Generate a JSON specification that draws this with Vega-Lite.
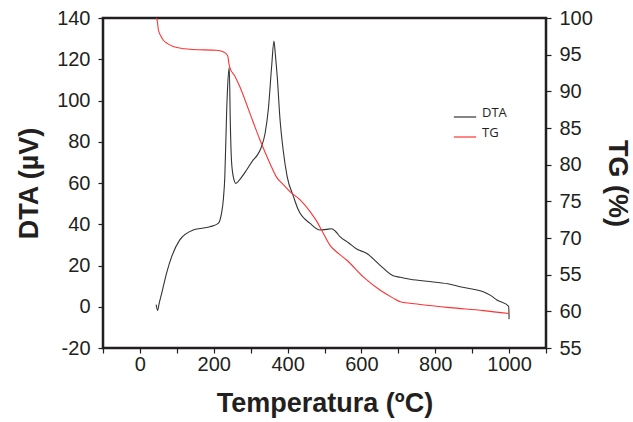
{
  "$schema": "https://vega.github.io/schema/vega-lite/v6.json",
  "width": 443,
  "height": 330,
  "autosize": {"type": "none"},
  "padding": {"left": 103, "top": 18, "right": 87, "bottom": 74},
  "background": "white",
  "config": {
    "view": {"stroke": "#231f20", "strokeWidth": 2.5},
    "axis": {
      "grid": false,
      "domain": false,
      "tickColor": "#231f20",
      "tickSize": 5,
      "tickWidth": 1.2,
      "labelOverlap": false,
      "labelFont": "Liberation Sans",
      "labelFontSize": 20,
      "labelColor": "#231f20",
      "titleFont": "Liberation Sans",
      "titleFontSize": 27,
      "titleFontWeight": "bold",
      "titleColor": "#231f20"
    }
  },
  "datasets": {
    "dta": [
      {"T": 44, "DTA": 1.0, "series": "DTA"},
      {"T": 48, "DTA": -1.8, "series": "DTA"},
      {"T": 52, "DTA": 1.5, "series": "DTA"},
      {"T": 59, "DTA": 6.5, "series": "DTA"},
      {"T": 72, "DTA": 16.2, "series": "DTA"},
      {"T": 86, "DTA": 24.3, "series": "DTA"},
      {"T": 108, "DTA": 32.4, "series": "DTA"},
      {"T": 144, "DTA": 37.2, "series": "DTA"},
      {"T": 190, "DTA": 38.8, "series": "DTA"},
      {"T": 212, "DTA": 40.4, "series": "DTA"},
      {"T": 221, "DTA": 45.3, "series": "DTA"},
      {"T": 226, "DTA": 52, "series": "DTA"},
      {"T": 230, "DTA": 63, "series": "DTA"},
      {"T": 235, "DTA": 95, "series": "DTA"},
      {"T": 238, "DTA": 108, "series": "DTA"},
      {"T": 242, "DTA": 116, "series": "DTA"},
      {"T": 245, "DTA": 88, "series": "DTA"},
      {"T": 248, "DTA": 71, "series": "DTA"},
      {"T": 253, "DTA": 63, "series": "DTA"},
      {"T": 260, "DTA": 59.8, "series": "DTA"},
      {"T": 271, "DTA": 61.8, "series": "DTA"},
      {"T": 289, "DTA": 66.3, "series": "DTA"},
      {"T": 307, "DTA": 71.2, "series": "DTA"},
      {"T": 318, "DTA": 73.5, "series": "DTA"},
      {"T": 328, "DTA": 77.0, "series": "DTA"},
      {"T": 339, "DTA": 84, "series": "DTA"},
      {"T": 348, "DTA": 96, "series": "DTA"},
      {"T": 357, "DTA": 117, "series": "DTA"},
      {"T": 363, "DTA": 128.8, "series": "DTA"},
      {"T": 367, "DTA": 122, "series": "DTA"},
      {"T": 372, "DTA": 111.5, "series": "DTA"},
      {"T": 379, "DTA": 92, "series": "DTA"},
      {"T": 388, "DTA": 76, "series": "DTA"},
      {"T": 399, "DTA": 63, "series": "DTA"},
      {"T": 416, "DTA": 53.4, "series": "DTA"},
      {"T": 429, "DTA": 47, "series": "DTA"},
      {"T": 461, "DTA": 40.4, "series": "DTA"},
      {"T": 488, "DTA": 37.2, "series": "DTA"},
      {"T": 505, "DTA": 37.5, "series": "DTA"},
      {"T": 519, "DTA": 37.8, "series": "DTA"},
      {"T": 530, "DTA": 36.5, "series": "DTA"},
      {"T": 542, "DTA": 34, "series": "DTA"},
      {"T": 565, "DTA": 31, "series": "DTA"},
      {"T": 587, "DTA": 28, "series": "DTA"},
      {"T": 614, "DTA": 25.9, "series": "DTA"},
      {"T": 650, "DTA": 20.2, "series": "DTA"},
      {"T": 686, "DTA": 15.0, "series": "DTA"},
      {"T": 705, "DTA": 14.3, "series": "DTA"},
      {"T": 732, "DTA": 13.3, "series": "DTA"},
      {"T": 795, "DTA": 12.0, "series": "DTA"},
      {"T": 840, "DTA": 10.9, "series": "DTA"},
      {"T": 867, "DTA": 9.7, "series": "DTA"},
      {"T": 903, "DTA": 8.5, "series": "DTA"},
      {"T": 930, "DTA": 7.3, "series": "DTA"},
      {"T": 950, "DTA": 5.5, "series": "DTA"},
      {"T": 967, "DTA": 3.3, "series": "DTA"},
      {"T": 999, "DTA": 0.2, "series": "DTA"},
      {"T": 1000, "DTA": -6, "series": "DTA"}
    ],
    "tg": [
      {"T": 45, "TG": 100, "series": "TG"},
      {"T": 47, "TG": 99.6, "series": "TG"},
      {"T": 50, "TG": 98.4, "series": "TG"},
      {"T": 56, "TG": 97.6, "series": "TG"},
      {"T": 63, "TG": 97.0, "series": "TG"},
      {"T": 75, "TG": 96.5, "series": "TG"},
      {"T": 90, "TG": 96.1, "series": "TG"},
      {"T": 120, "TG": 95.8, "series": "TG"},
      {"T": 144, "TG": 95.7, "series": "TG"},
      {"T": 208, "TG": 95.6, "series": "TG"},
      {"T": 225, "TG": 95.4, "series": "TG"},
      {"T": 232, "TG": 95.2, "series": "TG"},
      {"T": 238, "TG": 94.8, "series": "TG"},
      {"T": 241, "TG": 93.8, "series": "TG"},
      {"T": 244, "TG": 93.2, "series": "TG"},
      {"T": 258, "TG": 92.0, "series": "TG"},
      {"T": 271, "TG": 90.6, "series": "TG"},
      {"T": 298, "TG": 87.0, "series": "TG"},
      {"T": 325, "TG": 83.4, "series": "TG"},
      {"T": 352, "TG": 80.2, "series": "TG"},
      {"T": 370, "TG": 78.3, "series": "TG"},
      {"T": 390, "TG": 77.2, "series": "TG"},
      {"T": 407, "TG": 76.3, "series": "TG"},
      {"T": 434, "TG": 75.2, "series": "TG"},
      {"T": 461, "TG": 73.6, "series": "TG"},
      {"T": 480, "TG": 72.2, "series": "TG"},
      {"T": 492, "TG": 71.1, "series": "TG"},
      {"T": 515, "TG": 69.0, "series": "TG"},
      {"T": 540, "TG": 67.8, "series": "TG"},
      {"T": 560, "TG": 67.0, "series": "TG"},
      {"T": 605, "TG": 64.7, "series": "TG"},
      {"T": 650, "TG": 62.9, "series": "TG"},
      {"T": 686, "TG": 61.8, "series": "TG"},
      {"T": 705, "TG": 61.3, "series": "TG"},
      {"T": 750, "TG": 61.0, "series": "TG"},
      {"T": 840, "TG": 60.5, "series": "TG"},
      {"T": 930, "TG": 60.1, "series": "TG"},
      {"T": 1000, "TG": 59.7, "series": "TG"}
    ]
  },
  "encoding": {
    "x": {
      "field": "T", "type": "quantitative",
      "scale": {"domain": [-100, 1100], "nice": false, "zero": false},
      "axis": {
        "values": [-100, 0, 100, 200, 300, 400, 500, 600, 700, 800, 900, 1000, 1100],
        "labelExpr": "(datum.value == 0 || datum.value == 200 || datum.value == 400 || datum.value == 600 || datum.value == 800 || datum.value == 1000) ? '' + datum.value : ''",
        "labelPadding": 1,
        "labelFlush": false,
        "title": "Temperatura (ºC)",
        "titlePadding": 16
      }
    }
  },
  "layer": [
    {
      "layer": [
        {
          "data": {"name": "dta"},
          "mark": {"type": "line", "strokeWidth": 1.1, "interpolate": "monotone"},
          "encoding": {
            "y": {
              "field": "DTA", "type": "quantitative",
              "scale": {"domain": [-20, 140], "nice": false, "zero": false},
              "axis": {
                "values": [-20, 0, 20, 40, 60, 80, 100, 120, 140],
                "labelExpr": "'' + datum.value",
                "labelPadding": 8,
                "labelFlush": false,
                "title": "DTA (µV)",
                "titlePadding": 13
              }
            },
            "color": {
              "field": "series", "type": "nominal",
              "scale": {"domain": ["DTA", "TG"], "range": ["#333333", "#ff3333"]},
              "legend": {
                "orient": "none",
                "legendX": 350,
                "legendY": 87,
                "title": null,
                "symbolType": "stroke",
                "symbolSize": 500,
                "symbolStrokeWidth": 1.2,
                "labelFont": "Open Sans",
                "labelFontSize": 13,
                "labelColor": "#231f20",
                "labelBaseline": "alphabetic",
                "labelOffset": 5,
                "rowPadding": 5
              }
            }
          }
        },
        {
          "data": {"values": [{}]},
          "mark": {"type": "text", "align": "left", "baseline": "middle", "font": "Open Sans", "fontSize": 17, "color": "#231f20"},
          "encoding": {
            "x": {"datum": 404, "type": "quantitative"},
            "y": {"datum": 131, "type": "quantitative"},
            "text": {"value": "b) Argila DAS L organofílica"}
          }
        }
      ]
    },
    {
      "data": {"name": "tg"},
      "mark": {"type": "line", "strokeWidth": 1.1, "interpolate": "monotone"},
      "encoding": {
        "y": {
          "field": "TG", "type": "quantitative",
          "scale": {"domain": [55, 100], "nice": false, "zero": false},
          "axis": {
            "orient": "right",
            "values": [55, 60, 65, 70, 75, 80, 85, 90, 95, 100],
            "labelExpr": "datum.value == 65 ? '55' : datum.label",
            "labelPadding": 8,
            "labelFlush": false,
            "title": "TG (%)",
            "titlePadding": 10
          }
        },
        "color": {"field": "series", "type": "nominal"}
      }
    }
  ],
  "resolve": {"scale": {"y": "independent"}}
}
